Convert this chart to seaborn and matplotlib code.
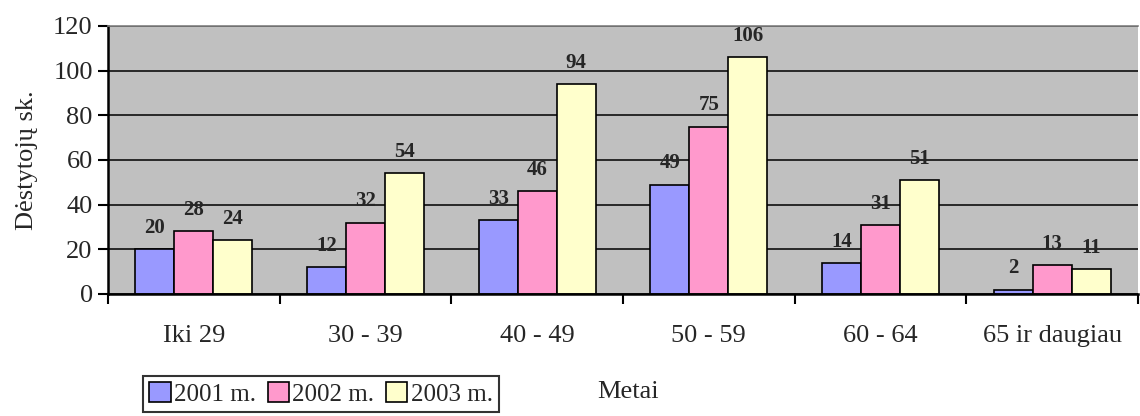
import numpy as np
import pandas as pd
import matplotlib
matplotlib.use("Agg")
import matplotlib.pyplot as plt
import seaborn as sns
from matplotlib.patches import Patch

# Duomenys
amziaus_grupes = ["Iki 29", "30 - 39", "40 - 49", "50 - 59", "60 - 64", "65 ir daugiau"]
metai = ["2001 m.", "2002 m.", "2003 m."]
reiksmes_2001 = [20, 12, 33, 49, 14, 2]
reiksmes_2002 = [28, 32, 46, 75, 31, 13]
reiksmes_2003 = [24, 54, 94, 106, 51, 11]
spalvos = ["#9999FF", "#FF99CC", "#FFFFCC"]

df = pd.DataFrame({
    "grupe": amziaus_grupes * 3,
    "metai": np.repeat(metai, len(amziaus_grupes)),
    "n": reiksmes_2001 + reiksmes_2002 + reiksmes_2003,
})

sns.set_style("white")
plt.rcParams["font.family"] = ["Liberation Serif", "DejaVu Serif"]

FS = 19

fig = plt.figure(figsize=(11.4, 4.16), dpi=100)
ax = fig.add_axes([108 / 1140, 1 - 294 / 416, 1030 / 1140, 268 / 416])
ax.set_facecolor("#C0C0C0")
ax.set_axisbelow(True)

sns.barplot(data=df, x="grupe", y="n", hue="metai", order=amziaus_grupes,
            hue_order=metai, palette=spalvos, width=0.68, edgecolor="black",
            linewidth=1.2, saturation=1, legend=False, ax=ax)

for cont in ax.containers:
    ax.bar_label(cont, padding=8, fontsize=15, fontweight="bold")

ax.set_ylim(0, 120)
ax.set_xlim(-0.5, len(amziaus_grupes) - 0.5)
ax.set_yticks(np.arange(0, 121, 20))
ax.yaxis.grid(True, color="black", linewidth=1.1)
ax.xaxis.grid(False)

# x ašies padalos tarp grupių, pavadinimai centre
ax.set_xticks(np.arange(-0.5, len(amziaus_grupes)), labels=[""] * (len(amziaus_grupes) + 1))
ax.set_xticks(np.arange(len(amziaus_grupes)), labels=amziaus_grupes, minor=True)
ax.tick_params(axis="x", which="major", direction="out", length=7, width=1.5, color="black", bottom=True)
ax.tick_params(axis="x", which="minor", length=0, pad=22, labelsize=FS)
ax.tick_params(axis="y", direction="out", length=7, width=1.5, color="black", left=True,
               pad=4, labelsize=FS)

for s in ["left", "bottom"]:
    ax.spines[s].set_color("black")
    ax.spines[s].set_linewidth(1.8)
ax.spines["top"].set_color("#808080")
ax.spines["top"].set_linewidth(1.2)
ax.spines["right"].set_visible(False)

ax.set_xlabel("Metai", fontsize=FS)
ax.xaxis.set_label_coords(0.505, -0.325)
ax.set_ylabel("Dėstytojų sk.", fontsize=FS, labelpad=11)

handles = [Patch(facecolor=c, edgecolor="black", linewidth=1.2) for c in spalvos]
leg = fig.legend(handles, metai, loc="upper left", bbox_to_anchor=(143 / 1140, 1 - 376 / 416),
                 ncol=3, fontsize=18, frameon=True, fancybox=False, edgecolor="black",
                 handlelength=0.85, handleheight=0.85, handletextpad=0.15,
                 columnspacing=0.45, borderpad=0.25, borderaxespad=0)
leg.get_frame().set_linewidth(1.5)

fig.savefig("out.png", dpi=100, facecolor="white")
